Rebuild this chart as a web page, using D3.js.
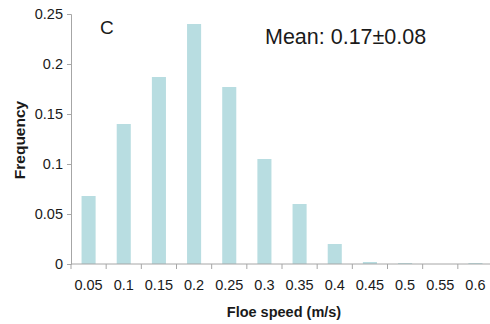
<!DOCTYPE html>
<html>
<head>
<meta charset="utf-8">
<script src="https://cdn.jsdelivr.net/npm/d3@7"></script>
<style>
  body { margin: 0; background: #fff; }
  text { font-family: "Liberation Sans", Arial, sans-serif; fill: #1a1a1a; }
</style>
</head>
<body>
<svg id="chart" width="490" height="324"></svg>
<script>
// bins of floe speed (m/s)
const speeds = ['0.05', '0.1', '0.15', '0.2', '0.25', '0.3', '0.35', '0.4', '0.45', '0.5', '0.55', '0.6']
// frequency per bin
const freq = [0.068, 0.140, 0.187, 0.240, 0.177, 0.105, 0.060, 0.020, 0.002, 0.001, 0, 0.001]
const yTicks = [0, 0.05, 0.1, 0.15, 0.2, 0.25]

const svg = d3.select('#chart')
const mLeft = 71, mRight = 493, mTop = 14, mBottom = 264

let x = d3.scaleBand().domain(speeds).range([mLeft, mRight]).paddingInner(0.6).paddingOuter(0.3)
let y = d3.scaleLinear().domain([0, 0.25]).range([mBottom, mTop])

// bars
svg
  .selectAll('.bar')
  .data(freq)
  .enter()
  .append('rect')
  .attr('class', 'bar')
  .attr('x', (d, i) => x(speeds[i]))
  .attr('y', (d) => y(d))
  .attr('width', x.bandwidth())
  .attr('height', (d) => mBottom - y(d))
  .attr('fill', '#b8dde1')

// y axis
let yAxis = svg
  .append('g')
  .attr('transform', `translate(${mLeft},0)`)
  .call(d3.axisLeft(y).tickValues(yTicks).tickFormat(d3.format('')).tickSize(4).tickPadding(4))
yAxis.select('.domain').attr('stroke', '#a6a6a6')
yAxis.selectAll('line').attr('stroke', '#a6a6a6')
yAxis.selectAll('text').style('font-size', '14.5px').attr('fill', '#1a1a1a')

// x axis: ticks at band boundaries
let edges = speeds.map((s) => x(s) - x.step() * x.paddingInner() / 2)
edges.push(mRight)
let xAxis = svg.append('g').attr('transform', `translate(0,${mBottom})`)
xAxis.append('line')
  .attr('x1', mLeft).attr('x2', mRight)
  .attr('stroke', '#a6a6a6')
xAxis.selectAll('.tk')
  .data(edges)
  .enter()
  .append('line')
  .attr('class', 'tk')
  .attr('x1', (d) => d).attr('x2', (d) => d)
  .attr('y1', 0).attr('y2', 5)
  .attr('stroke', '#a6a6a6')
xAxis.selectAll('.lbl')
  .data(speeds)
  .enter()
  .append('text')
  .attr('class', 'lbl')
  .attr('x', (d) => x(d) + x.bandwidth() / 2)
  .attr('y', 25.5)
  .attr('text-anchor', 'middle')
  .style('font-size', '14.5px')
  .text((d) => d)

// axis titles
svg.append('text')
  .attr('x', 284).attr('y', 317)
  .attr('text-anchor', 'middle')
  .style('font-size', '14.5px').style('font-weight', 'bold')
  .text('Floe speed (m/s)')
svg.append('text')
  .attr('transform', 'translate(25,140) rotate(-90)')
  .attr('text-anchor', 'middle')
  .style('font-size', '15.5px').style('font-weight', 'bold')
  .text('Frequency')

// panel letter and mean
svg.append('text').attr('x', 100).attr('y', 34).style('font-size', '19px').text('C')
svg.append('text').attr('x', 265).attr('y', 44).style('font-size', '21.5px').text('Mean: 0.17±0.08')
</script>
</body>
</html>
